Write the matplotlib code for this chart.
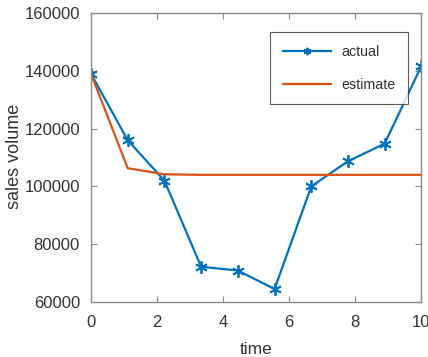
import numpy as np
import matplotlib
matplotlib.use("Agg")
import matplotlib.pyplot as plt

plt.rcParams['font.family'] = ['Liberation Sans', 'DejaVu Sans']

time = [0, 1.111, 2.222, 3.333, 4.444, 5.556, 6.667, 7.778, 8.889, 10]
actual = [139000, 116000, 102000, 72200, 70900, 64500, 100000, 108700, 114800, 141700]
estimate = [139000, 106300, 104200, 104000, 104000, 104000, 104000, 104000, 104000, 104000]

xticks = [0, 2, 4, 6, 8, 10]
yticks = [60000, 80000, 100000, 120000, 140000, 160000]

fig = plt.figure(figsize=(4.28, 3.57), dpi=100)
ax = fig.add_axes([0.2126, 0.154, 0.772, 0.8096])

ax.plot(time, actual, color='#0072BD', lw=1.6, marker=(6, 2, 0), ms=9, mew=1.3, label='actual')
ax.plot(time, estimate, color='#D95319', lw=1.6, label='estimate')

ax.set_xlim(0, 10)
ax.set_ylim(60000, 160000)
ax.set_xticks(xticks)
ax.set_yticks(yticks)
ax.set_xticklabels([str(t) for t in xticks])
ax.set_yticklabels([str(t) for t in yticks])

gray = '#8a8a8a'
for s in ax.spines.values():
    s.set_color(gray)
    s.set_linewidth(1.0)
ax.tick_params(direction='in', top=True, right=True, colors=gray, labelcolor='#333333',
               labelsize=12, length=4)
ax.tick_params(axis='x', pad=9)
ax.tick_params(axis='y', pad=8)

ax.set_xlabel('time', fontsize=12.5, color='#333333')
ax.set_ylabel('sales volume', fontsize=13, color='#333333')
ax.xaxis.set_label_coords(0.5, -0.14)
ax.yaxis.set_label_coords(-0.207, 0.503)

leg = ax.legend(loc='upper left', bbox_to_anchor=(0.542, 0.934), fontsize=10.3,
                frameon=True, fancybox=False, edgecolor='#333333', borderpad=0.9,
                labelspacing=1.3, handlelength=3.35, handletextpad=0.7,
                borderaxespad=0, markerscale=0.6)
leg.get_frame().set_linewidth(0.8)
for t in leg.get_texts():
    t.set_color('#333333')

fig.savefig('out.png', dpi=100)
